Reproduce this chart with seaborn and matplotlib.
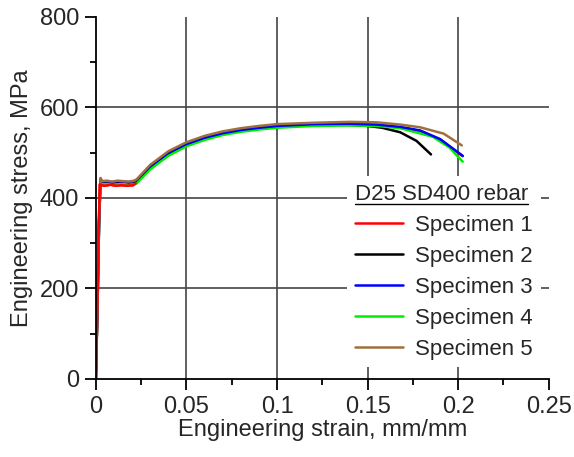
import numpy as np
import pandas as pd
import matplotlib
matplotlib.use("Agg")
import matplotlib.pyplot as plt
import seaborn as sns
from matplotlib.ticker import MultipleLocator
from matplotlib.lines import Line2D

# ---- data ----
s1_strain = [0, 0.0008, 0.0015, 0.0022, 0.003, 0.005, 0.008, 0.011, 0.014, 0.017, 0.0205, 0.022,
             0.03, 0.04, 0.05, 0.06, 0.07, 0.08, 0.09, 0.10, 0.12, 0.14, 0.155, 0.168, 0.179, 0.19, 0.2025]
s1_stress = [0, 150, 320, 430, 428, 427, 429, 427, 428, 427, 428, 432,
             468, 498, 518, 532, 542, 549, 554, 558, 562, 563, 561, 556, 548, 529, 492]

s2_strain = [0, 0.001, 0.0018, 0.0026, 0.0035, 0.006, 0.009, 0.012, 0.015, 0.018, 0.021, 0.0225,
             0.03, 0.04, 0.05, 0.06, 0.07, 0.08, 0.09, 0.10, 0.12, 0.14, 0.15, 0.158, 0.168, 0.177, 0.185]
s2_stress = [0, 180, 350, 436, 432, 433, 431, 433, 432, 431, 432, 434,
             468, 498, 518, 532, 542, 549, 554, 558, 562, 561, 559, 555, 545, 526, 496]

s3_strain = [0, 0.001, 0.0018, 0.0026, 0.0035, 0.006, 0.009, 0.012, 0.015, 0.018, 0.021, 0.0225,
             0.03, 0.04, 0.05, 0.06, 0.07, 0.08, 0.09, 0.10, 0.12, 0.14, 0.155, 0.168, 0.179, 0.19, 0.2025]
s3_stress = [0, 180, 350, 442, 436, 437, 435, 437, 436, 435, 437, 439,
             470, 500, 519, 533, 543, 550, 555, 559, 563, 564, 562, 557, 549, 530, 493]

s4_strain = [0, 0.001, 0.0018, 0.0026, 0.0035, 0.006, 0.009, 0.012, 0.015, 0.018, 0.021, 0.0225,
             0.03, 0.04, 0.05, 0.06, 0.07, 0.08, 0.09, 0.10, 0.12, 0.14, 0.155, 0.168, 0.186, 0.195, 0.2025]
s4_stress = [0, 180, 350, 436, 430, 431, 429, 430, 431, 429, 430, 432,
             463, 493, 514, 528, 539, 546, 551, 555, 559, 560, 559, 554, 535, 512, 480]

s5_strain = [0, 0.001, 0.0018, 0.0026, 0.0035, 0.006, 0.009, 0.012, 0.015, 0.018, 0.021, 0.0225,
             0.03, 0.04, 0.05, 0.06, 0.07, 0.08, 0.09, 0.10, 0.12, 0.14, 0.155, 0.168, 0.179, 0.192, 0.202]
s5_stress = [0, 180, 350, 444, 437, 438, 436, 438, 437, 436, 438, 441,
             473, 503, 523, 537, 547, 554, 559, 563, 566, 568, 567, 562, 556, 542, 516]

names = ["Specimen 1", "Specimen 2", "Specimen 3", "Specimen 4", "Specimen 5"]
colors = ["#ff0000", "#000000", "#0000ff", "#00ee00", "#a0703c"]
strains = [s1_strain, s2_strain, s3_strain, s4_strain, s5_strain]
stresses = [s1_stress, s2_stress, s3_stress, s4_stress, s5_stress]

xticks = [0, 0.05, 0.1, 0.15, 0.2, 0.25]
xticklabels = ["0", "0.05", "0.1", "0.15", "0.2", "0.25"]
yticks = [0, 200, 400, 600, 800]

frames = []
for n, x, y in zip(names, strains, stresses):
    frames.append(pd.DataFrame({"strain": x, "stress": y, "specimen": n}))
df = pd.concat(frames, ignore_index=True)

sns.set_style("white")
plt.rcParams["font.family"] = ["Liberation Sans", "DejaVu Sans"]
fs = 17
lfs = 16
lw = 1.8

fig = plt.figure(figsize=(5.74, 4.57), dpi=100)
ax = fig.add_axes([0.167, 0.171, 0.789, 0.792])

draw_order = ["Specimen 1", "Specimen 2", "Specimen 4", "Specimen 3", "Specimen 5"]
for n in draw_order:
    i = names.index(n)
    sub = df[df["specimen"] == n]
    sns.lineplot(data=sub, x="strain", y="stress", sort=False, estimator=None,
                 color=colors[i], lw=lw, ax=ax, legend=False)
sub = df[(df["specimen"] == "Specimen 1") & (df["strain"] <= 0.022)]
sns.lineplot(data=sub, x="strain", y="stress", sort=False, estimator=None,
             color=colors[0], lw=lw, ax=ax, legend=False)

ax.set_xlim(0, 0.25)
ax.set_ylim(0, 800)
ax.set_xticks(xticks)
ax.set_xticklabels(xticklabels)
ax.set_yticks(yticks)
ax.xaxis.set_minor_locator(MultipleLocator(0.025))
ax.yaxis.set_minor_locator(MultipleLocator(100))
ax.tick_params(axis="both", which="major", direction="out", length=8, width=1.3,
               labelsize=fs, color="black", bottom=True, left=True, pad=4)
ax.tick_params(axis="both", which="minor", direction="out", length=4.5, width=1.3,
               color="black", bottom=True, left=True)
for side in ["top", "right"]:
    ax.spines[side].set_visible(False)
for side in ["left", "bottom"]:
    ax.spines[side].set_color("black")
    ax.spines[side].set_linewidth(1.3)

ax.grid(True, which="major", color="#444444", lw=1.2)
ax.set_axisbelow(True)
ax.xaxis.get_gridlines()[0].set_visible(False)
ax.xaxis.get_gridlines()[-1].set_visible(False)
ax.yaxis.get_gridlines()[0].set_visible(False)
ax.yaxis.get_gridlines()[-1].set_visible(False)

ax.set_xlabel("Engineering strain, mm/mm", fontsize=fs, labelpad=1)
ax.set_ylabel("Engineering stress, MPa", fontsize=fs, labelpad=5)

handles = [Line2D([], [], color=c, lw=lw) for c in colors]
leg = ax.legend(handles, names, title="D25 SD400 rebar", fontsize=lfs, title_fontsize=lfs,
                loc="upper left", bbox_to_anchor=(0.555, 0.56), frameon=True,
                facecolor="white", edgecolor="none", framealpha=1.0,
                handlelength=2.15, handletextpad=0.55, labelspacing=0.45,
                borderpad=0.35, borderaxespad=0, alignment="left")
leg.get_frame().set_boxstyle("square", pad=0)
leg._legend_box.sep = 7

fig.canvas.draw()
t = leg.get_title()
bb = t.get_window_extent(fig.canvas.get_renderer())
inv = fig.transFigure.inverted()
(x0, y0), (x1, y1) = inv.transform([[bb.x0, bb.y0], [bb.x1, bb.y1]])
fig.add_artist(Line2D([x0, x1], [y0 + 0.002, y0 + 0.002], color="black", lw=1.0,
                      transform=fig.transFigure))

fig.savefig("out.png", dpi=100)
